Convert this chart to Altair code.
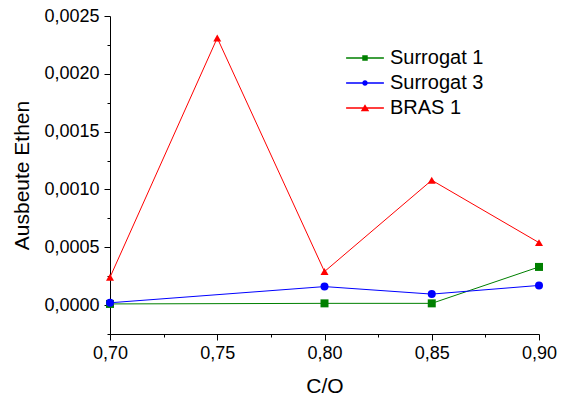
import altair as alt
import pandas as pd

# ---- data ----
co_surrogat = [0.70, 0.80, 0.85, 0.90]
surrogat1 = [0.00001, 0.000015, 0.000015, 0.00033]
surrogat3 = [0.00002, 0.00016, 0.000095, 0.00017]
co_bras = [0.70, 0.75, 0.80, 0.85, 0.90]
bras1 = [0.00024, 0.00231, 0.00029, 0.00108, 0.00054]

series_names = ["Surrogat 1", "Surrogat 3", "BRAS 1"]
series_colors = ["#008000", "#0000FF", "#FF0000"]
point_shapes = ["square", "circle", "triangle-up"]

x_ticks = [0.70, 0.725, 0.75, 0.775, 0.80, 0.825, 0.85, 0.875, 0.90]
y_ticks = [-0.00025, 0.0, 0.00025, 0.0005, 0.00075, 0.001, 0.00125,
           0.0015, 0.00175, 0.002, 0.00225, 0.0025]

rows = []
for x, v in zip(co_surrogat, surrogat1):
    rows.append({"co": x, "val": v, "series": "Surrogat 1"})
for x, v in zip(co_surrogat, surrogat3):
    rows.append({"co": x, "val": v, "series": "Surrogat 3"})
for x, v in zip(co_bras, bras1):
    rows.append({"co": x, "val": v, "series": "BRAS 1"})
df = pd.DataFrame(rows)

FONT = "Liberation Sans"

# legend symbols: line + marker, as custom paths (units scaled by sqrt(size)/2)
legend_paths = [
    "M-6.9,-0.25H6.9V0.25H-6.9Z M-1,-1H1V1H-1Z",
    "M-6.9,-0.25H6.9V0.25H-6.9Z M1,0A1,1,0,1,1,-1,0A1,1,0,1,1,1,0Z",
    "M-6.9,-0.25H6.9V0.25H-6.9Z M0,-1.35L1.55,1.2H-1.55Z",
]

x_enc = alt.X(
    "co:Q",
    scale=alt.Scale(domain=[0.70, 0.90], nice=False, zero=False),
    axis=alt.Axis(
        title="C/O",
        values=x_ticks,
        labelExpr="abs(datum.value*20 - round(datum.value*20)) < 0.001 ? replace(format(datum.value, '.2f'), '.', ',') : ''",
        tickSize={"condition": {"test": "abs(datum.value*20 - round(datum.value*20)) < 0.001", "value": 6}, "value": 3},
        grid=False,
        domainColor="black",
        tickColor="black",
        labelColor="black",
        titleColor="black",
        labelFont=FONT,
        titleFont=FONT,
        labelFontSize=18,
        titleFontSize=21,
        titleFontWeight="normal",
        labelPadding=4,
        titlePadding=13,
        labelFlush=False,
        labelOverlap=False,
    ),
)

y_enc = alt.Y(
    "val:Q",
    scale=alt.Scale(domain=[-0.00025, 0.0025], nice=False, zero=False),
    axis=alt.Axis(
        title="Ausbeute Ethen",
        values=y_ticks,
        labelExpr="abs(datum.value*2000 - round(datum.value*2000)) < 0.001 ? replace(format(datum.value, '.4f'), '.', ',') : ''",
        tickSize={"condition": {"test": "abs(datum.value*2000 - round(datum.value*2000)) < 0.001", "value": 6}, "value": 3},
        grid=False,
        domainColor="black",
        tickColor="black",
        labelColor="black",
        titleColor="black",
        labelFont=FONT,
        titleFont=FONT,
        labelFontSize=18,
        titleFontSize=21,
        titleFontWeight="normal",
        labelPadding=5,
        titlePadding=11,
        labelFlush=False,
        labelOverlap=False,
    ),
)

color_scale = alt.Scale(domain=series_names, range=series_colors)

lines = alt.Chart(df).mark_line(strokeWidth=1).encode(
    x=x_enc,
    y=y_enc,
    color=alt.Color("series:N", scale=color_scale, legend=None),
    detail="series:N",
)

points = alt.Chart(df).mark_point(filled=True, size=64, opacity=1).encode(
    x=x_enc,
    y=y_enc,
    color=alt.Color("series:N", scale=color_scale, legend=None),
    shape=alt.Shape("series:N", scale=alt.Scale(domain=series_names, range=point_shapes), legend=None),
)

legend_cfg = dict(
    title=None,
    orient="none",
    legendX=245,
    legendY=32,
    labelFont=FONT,
    labelFontSize=20,
    labelColor="black",
    labelOffset=15,
    symbolSize=30,
    symbolStrokeWidth=0,
    rowPadding=5,
    padding=0,
)

legend_layer = alt.Chart(df).transform_filter("false").mark_point(filled=True, opacity=1).encode(
    x=x_enc,
    y=y_enc,
    color=alt.Color("series:N", scale=color_scale, legend=alt.Legend(**legend_cfg)),
    shape=alt.Shape(
        "series:N",
        scale=alt.Scale(domain=series_names, range=legend_paths),
        legend=alt.Legend(**legend_cfg),
    ),
)

chart = (
    alt.layer(lines, points, legend_layer)
    .resolve_scale(shape="independent", color="independent")
    .properties(
        width=429,
        height=318,
        padding={"left": 110, "top": 16, "right": 24, "bottom": 65},
        autosize=alt.AutoSizeParams(type="none"),
        background="white",
    )
    .configure_view(stroke=None)
    .configure_axis(domainWidth=1, tickWidth=1)
)

chart.save("out.html", embed_options={"renderer": "svg", "actions": False})
